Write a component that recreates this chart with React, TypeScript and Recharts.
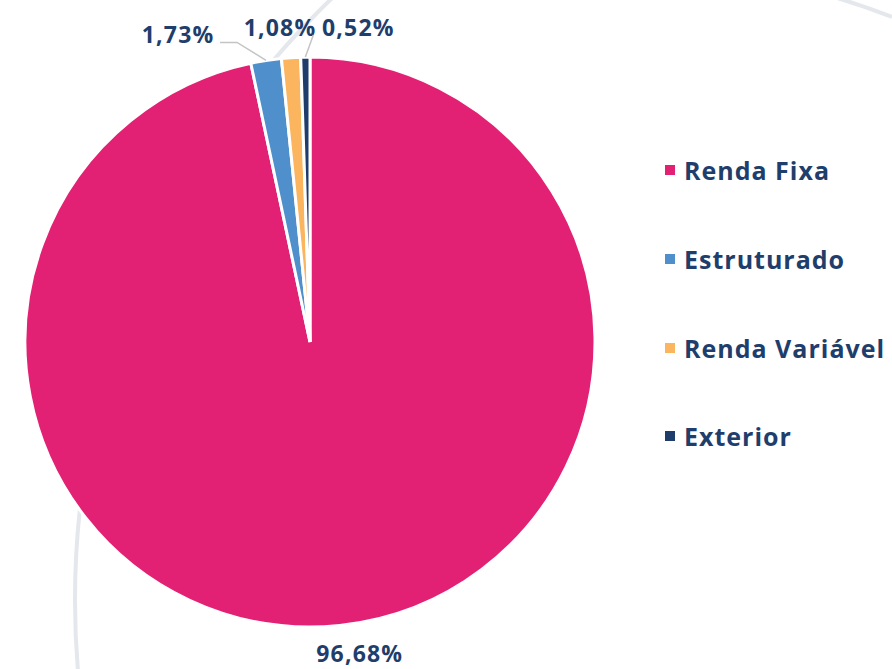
import { Legend, Pie, PieChart } from "recharts"

const categories = ["Renda Fixa", "Estruturado", "Renda Variável", "Exterior"]
const shares = [96.68, 1.73, 1.08, 0.52]
const colors = ["#e32174", "#4f8fcb", "#fbb55e", "#1e3d6b"]

// label offset from slice edge, plus optional leader line bends
const labelOffsets = [
  { dx: 20, dy: 28, line: null },
  { dx: -88, dy: -26, line: [[-29, -18], [-46, -18]] },
  { dx: -11, dy: -31, line: null },
  { dx: 53, dy: -30, line: [[8, -22]] },
]

const data = categories.map((name, i) => ({ name, value: shares[i], fill: colors[i] }))

const RADIAN = Math.PI / 180
const textColor = "#1f3e6c"
const font = "'Open Sans', Lato, sans-serif"

const fmt = (v: number) => v.toFixed(2).replace(".", ",") + "%"

function renderLabel(props: any) {
  const { cx, cy, midAngle, outerRadius, index, value } = props
  const ax = cx + outerRadius * Math.cos(-midAngle * RADIAN)
  const ay = cy + outerRadius * Math.sin(-midAngle * RADIAN)
  const off = labelOffsets[index]
  const pts = off.line ? [[0, 0], ...off.line].map(([x, y]) => `${ax + x},${ay + y}`).join(" ") : null
  return (
    <g key={`lbl-${index}`}>
      {pts && <polyline points={pts} fill="none" stroke="#c4c4c4" strokeWidth={1.5} />}
      <text
        x={ax + off.dx}
        y={ay + off.dy}
        textAnchor="middle"
        dominantBaseline="central"
        fill={textColor}
        fontFamily={font}
        fontWeight={700}
        fontSize={23}
        letterSpacing={1.2}
      >
        {fmt(value)}
      </text>
    </g>
  )
}

function LegendList() {
  return (
    <div style={{ fontFamily: font }}>
      {categories.map((c, i) => (
        <div key={c} style={{ display: "flex", alignItems: "center", height: 88.7 }}>
          <span style={{ width: 10, height: 10, background: colors[i], marginRight: 9, display: "inline-block" }} />
          <span style={{ color: textColor, fontWeight: 700, fontSize: 25, letterSpacing: 1, whiteSpace: "nowrap" }}>{c}</span>
        </div>
      ))}
    </div>
  )
}

export default function App() {
  return (
    <div style={{ position: "absolute", left: 0, top: 0, width: 892, height: 669, background: "#fff", overflow: "hidden" }}>
      <svg width={892} height={669} style={{ position: "absolute", left: 0, top: 0 }}>
        <circle cx={908} cy={600} r={833} fill="none" stroke="#e4e7ec" strokeWidth={4} />
        <path d="M 820 -7 A 735 735 0 0 1 892 17" fill="none" stroke="#e4e7ec" strokeWidth={4} />
      </svg>
      <div style={{ position: "absolute", left: 0, top: 0 }}>
        <PieChart width={892} height={669} margin={{ top: 0, right: 0, bottom: 0, left: 0 }}>
          <Pie
            data={data}
            dataKey="value"
            nameKey="name"
            cx={310}
            cy={342}
            outerRadius={285}
            startAngle={90}
            endAngle={-270}
            stroke="#ffffff"
            strokeWidth={3}
            labelLine={false}
            label={renderLabel}
            isAnimationActive={false}
          />
          <Legend
            content={() => <LegendList />}
            wrapperStyle={{ left: 665, top: 126, width: 227 }}
            layout="vertical"
            verticalAlign="top"
            align="right"
          />
        </PieChart>
      </div>
    </div>
  )
}
